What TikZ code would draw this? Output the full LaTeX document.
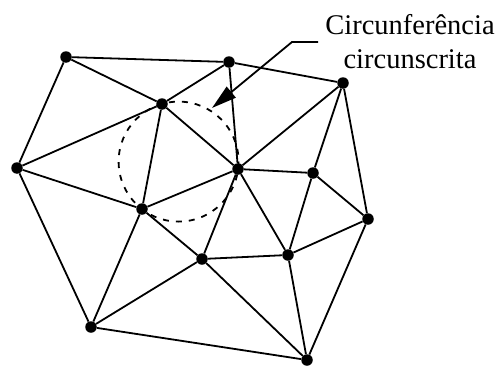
\documentclass[tikz,border=0pt]{standalone}
\usepackage{fontspec}
\setmainfont{Liberation Serif}
\usetikzlibrary{arrows.meta}
\begin{document}
\begin{tikzpicture}[x=1pt,y=-1pt,
  dot/.style={circle,fill=black,inner sep=0pt,minimum size=11.5pt},
  edge/.style={line width=1.8pt,black},
  lead/.style={line width=1.8pt,black,-{Triangle[length=25pt,width=14pt]}}]
\useasboundingbox (0,0) rectangle (496,367);
\node[dot] (A) at (66,57) {};
\node[dot] (B) at (229,62) {};
\node[dot] (C) at (343,83) {};
\node[dot] (D) at (162,104) {};
\node[dot] (E) at (17,168) {};
\node[dot] (F) at (238,169) {};
\node[dot] (G) at (313,173) {};
\node[dot] (H) at (142,209) {};
\node[dot] (I) at (368,219) {};
\node[dot] (J) at (202,259) {};
\node[dot] (K) at (288,255) {};
\node[dot] (L) at (91,327) {};
\node[dot] (M) at (307,360) {};
\draw[edge] (A)--(B) (A)--(D) (A)--(E)
  (B)--(D) (B)--(F) (B)--(C)
  (D)--(E) (D)--(F) (D)--(H)
  (E)--(H) (E)--(L)
  (C)--(F) (C)--(G) (C)--(I)
  (F)--(G) (F)--(H) (F)--(J) (F)--(K)
  (G)--(K) (G)--(I)
  (H)--(J) (H)--(L)
  (J)--(K) (J)--(L) (J)--(M)
  (K)--(I) (K)--(M) (I)--(M) (L)--(M);
\draw[line width=1.8pt,dash pattern=on 6pt off 7pt] (178.6,161.6) circle (60);
\node[font=\fontsize{28.5}{34}\selectfont,align=center] (lbl) at (410,42) {Circunferência\\circunscrita};
\coordinate (s) at (318,42);
\coordinate (b) at (292,42);
\coordinate (tip) at (212,108);
\draw[lead] (s)--(b)--(tip);
\end{tikzpicture}
\end{document}
